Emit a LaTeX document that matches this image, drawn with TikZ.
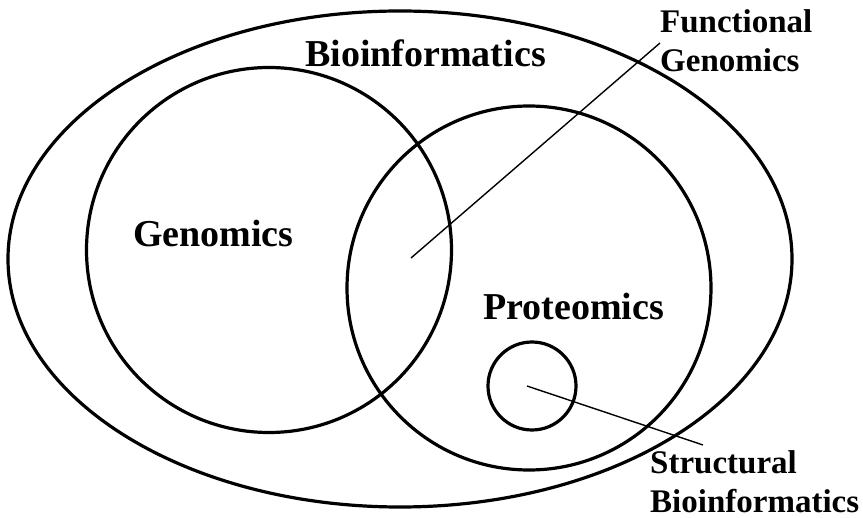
\documentclass[tikz,border=0pt]{standalone}
\usepackage{fontspec}
\setmainfont{Liberation Serif}
\usetikzlibrary{shapes.geometric}
\begin{document}
\begin{tikzpicture}[x=1pt,y=-1pt,
  ring/.style={draw=black,line width=3.2pt,inner sep=0pt,outer sep=0pt},
  bigtxt/.style={font=\bfseries\fontsize{38}{40}\selectfont,inner sep=0pt,anchor=base west},
  smalltxt/.style={font=\bfseries\fontsize{33}{39}\selectfont,inner sep=0pt,anchor=base west,align=left},
  pointer/.style={draw=black,line width=1.4pt}]
\useasboundingbox (0,0) rectangle (863,518);
\node[ring,ellipse,minimum width=784pt,minimum height=496pt] (bio) at (400,259) {};
\node[ring,circle,minimum size=365pt] (gen) at (269,250) {};
\node[ring,circle,minimum size=364pt] (prot) at (529,288) {};
\node[ring,circle,minimum size=88pt] (struct) at (532,386) {};
\node[bigtxt] (biol) at (305,67) {Bioinformatics};
\node[bigtxt] (genl) at (133,247) {Genomics};
\node[bigtxt] (protl) at (483,320) {Proteomics};
\node[smalltxt] (fgl) at (660,72) {Functional\\Genomics};
\node[smalltxt] (sbl) at (650,513) {Structural\\Bioinformatics};
\coordinate (fgin) at (411,258);
\coordinate (fgend) at (660,43);
\coordinate (sbin) at (527,386);
\coordinate (sbend) at (703,445);
\draw[pointer] (fgin) -- (fgend);
\draw[pointer] (sbin) -- (sbend);
\end{tikzpicture}
\end{document}
